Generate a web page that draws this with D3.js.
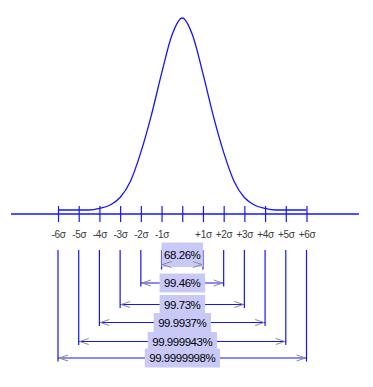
<!DOCTYPE html>
<html>
<head>
<meta charset="utf-8">
<script src="https://cdn.jsdelivr.net/npm/d3@7"></script>
<style>
  html, body { margin: 0; padding: 0; background: #fff; }
  svg { display: block; }
</style>
</head>
<body>
<svg id="chart" width="373" height="387"></svg>
<script>
// ---- data ----
const sigmaTicks = [-6, -5, -4, -3, -2, -1, 0, 1, 2, 3, 4, 5, 6];
const tickLabels = ["-6σ", "-5σ", "-4σ", "-3σ", "-2σ", "-1σ", "", "+1σ", "+2σ", "+3σ", "+4σ", "+5σ", "+6σ"];
// bell curve (x in sigma units, y relative to peak)
const curveX = [-6, -5, -4.5, -4, -3.5, -3, -2.5, -2, -1.5, -1, -0.5, 0, 0.5, 1, 1.5, 2, 2.5, 3, 3.5, 4, 4.5, 5, 6];
const curveY = [0, 0, 0, 0.008, 0.025, 0.065, 0.15, 0.30, 0.49, 0.71, 0.91, 1, 0.91, 0.71, 0.49, 0.30, 0.15, 0.065, 0.025, 0.008, 0, 0, 0];
// coverage brackets
const bracketSigma = [1, 2, 3, 4, 5, 6];
const bracketLabels = ["68.26%", "99.46%", "99.73%", "99.9937%", "99.999943%", "99.9999998%"];

// ---- layout ----
const svg = d3.select("#chart");
const x = d3.scaleLinear().domain([-6, 6]).range([58, 306.5]);
const y = d3.scaleLinear().domain([0, 1]).range([210, 18]);
const axisY = 214;
const bracketY = d3.scaleOrdinal().domain(bracketSigma).range([264.5, 283, 304.5, 322.5, 341.5, 358]);
const blue = "#1414ff";

// main axis line
svg.append("line")
  .attr("x1", 11).attr("x2", 359)
  .attr("y1", axisY).attr("y2", axisY)
  .attr("stroke", blue).attr("stroke-width", 1.6);

// ticks + labels via d3 axis
const axis = d3.axisBottom(x)
  .tickValues(sigmaTicks)
  .tickSize(16)
  .tickPadding(9)
  .tickFormat((d, i) => tickLabels[i]);
const ag = svg.append("g").attr("transform", "translate(0,206)").call(axis);
ag.select(".domain").remove();
ag.selectAll(".tick line").attr("stroke", blue).attr("stroke-width", 1.2);
ag.selectAll(".tick text")
  .attr("fill", "#3a3a3a")
  .attr("font-family", "Liberation Sans, Arial, sans-serif")
  .attr("font-size", 10)
  .attr("letter-spacing", -0.3);

// bell curve
const pts = curveX.map((v, i) => [v, curveY[i]]);
svg.append("path")
  .datum(pts)
  .attr("fill", "none")
  .attr("stroke", blue)
  .attr("stroke-width", 1.3)
  .attr("d", d3.line().x(d => x(d[0])).y(d => y(d[1])).curve(d3.curveMonotoneX));

// vertical drop lines from each sigma (except 0)
bracketSigma.forEach(k => {
  [-k, k].forEach(s => {
    svg.append("line")
      .attr("x1", x(s)).attr("x2", x(s))
      .attr("y1", 250).attr("y2", bracketY(k) + (k === 1 ? 5 : 3.5))
      .attr("stroke", blue).attr("stroke-width", 1.2);
  });
});

// brackets
bracketSigma.forEach((k, i) => {
  const ly = bracketY(k);
  const x0 = x(-k), x1 = x(k);
  svg.append("line")
    .attr("x1", x0).attr("x2", x1)
    .attr("y1", ly).attr("y2", ly)
    .attr("stroke", blue).attr("stroke-width", 1.2);

  const g = svg.append("g");
  const cx = (x0 + x1) / 2;
  const t = g.append("text")
    .attr("x", cx)
    .attr("y", k === 1 ? ly - 6 : ly + 4)
    .attr("text-anchor", "middle")
    .attr("font-family", "Liberation Sans, Arial, sans-serif")
    .attr("font-size", 11.5)
    .attr("letter-spacing", -0.45)
    .attr("fill", "#000")
    .text(bracketLabels[i]);
  const bb = t.node().getBBox();
  const padX = 4.5;
  let rx0 = bb.x - padX, rx1 = bb.x + bb.width + padX;
  let ry0 = ly - 9.5, ry1 = ly + 9.5;
  if (k === 1) { rx0 = x0; rx1 = x1; ry0 = 242.5; ry1 = 267; }
  g.insert("rect", "text")
    .attr("x", rx0).attr("y", ry0)
    .attr("width", rx1 - rx0).attr("height", ry1 - ry0)
    .attr("fill", "#c9c9f8");

  // arrowheads (gray, open)
  const ah = 9, aw = 3;
  [[x0 + 1, 1], [x1 - 1, -1]].forEach(([tx, dir]) => {
    svg.append("path")
      .attr("d", `M${tx + dir * ah},${ly - aw}L${tx},${ly}L${tx + dir * ah},${ly + aw}`)
      .attr("fill", "none")
      .attr("stroke", "#8a8a8a")
      .attr("stroke-width", 1);
  });
});
</script>
</body>
</html>
